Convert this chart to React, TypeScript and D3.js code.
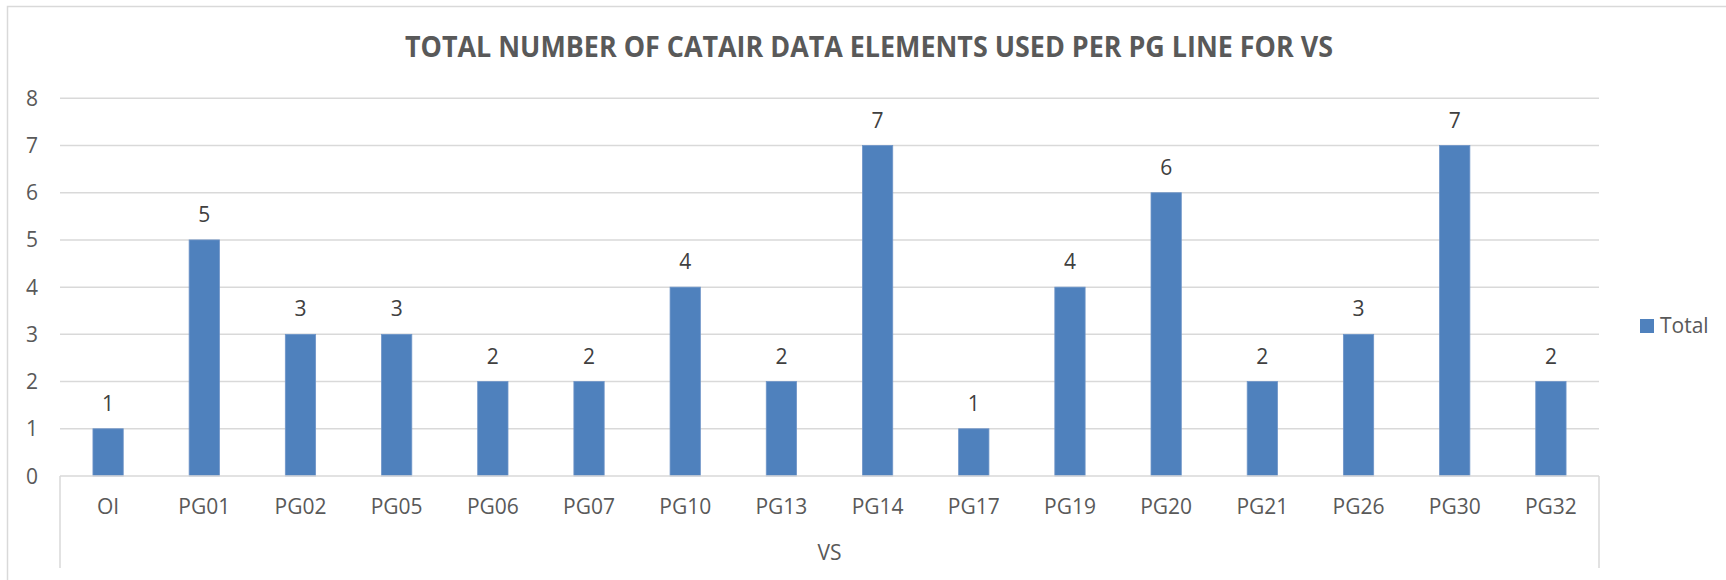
import { scaleBand, scaleLinear } from 'd3'

const categories = ['OI', 'PG01', 'PG02', 'PG05', 'PG06', 'PG07', 'PG10', 'PG13', 'PG14', 'PG17', 'PG19', 'PG20', 'PG21', 'PG26', 'PG30', 'PG32']
const totals = [1, 5, 3, 3, 2, 2, 4, 2, 7, 1, 4, 6, 2, 3, 7, 2]
const yTicks = [0, 1, 2, 3, 4, 5, 6, 7, 8]

const title = 'TOTAL NUMBER OF CATAIR DATA ELEMENTS USED PER PG LINE FOR VS'
const groupLabel = 'VS'
const seriesName = 'Total'

const W = 1726
const H = 580
const plot = { left: 60, right: 1599, top: 98.3, bottom: 476 }
const axisBottom = 568

const barColor = '#4F81BD'
const gridColor = '#D9D9D9'
const textColor = '#595959'
const font = '"Open Sans", "Liberation Sans", sans-serif'

export default function App() {
	const x = scaleBand<string>()
		.domain(categories)
		.range([plot.left, plot.right])
		.paddingInner(0.685)
		.paddingOuter(0.3425)

	const y = scaleLinear().domain([0, 8]).range([plot.bottom, plot.top])

	const mid = (plot.left + plot.right) / 2

	return (
		<svg
			width={W}
			height={H}
			style={{ position: 'absolute', left: 0, top: 0, background: '#fff' }}
			fontFamily={font}
		>
			{/* outer chart frame, cropped on the right and bottom */}
			<rect x={7.5} y={6.5} width={W + 20} height={H + 20} fill='#fff' stroke={gridColor} strokeWidth={1.5} />

			<text
				x={869}
				y={57.3}
				textAnchor='middle'
				fontSize={29}
				fontWeight={700}
				fill={textColor}
				textLength={928}
				lengthAdjust='spacingAndGlyphs'
			>
				{title}
			</text>

			{/* grid + value axis */}
			{yTicks.map((t) => (
				<g key={t}>
					{t > 0 && (
						<line x1={plot.left} x2={plot.right} y1={y(t)} y2={y(t)} stroke={gridColor} strokeWidth={1.5} />
					)}
					<text x={38} y={y(t) + 7.5} textAnchor='end' fontSize={21} fill={textColor}>
						{t}
					</text>
				</g>
			))}

			{/* bars + labels */}
			{categories.map((c, i) => {
				const bx = x(c)!
				const v = totals[i]
				const cx = bx + x.bandwidth() / 2
				return (
					<g key={c}>
						<rect
							x={bx}
							y={y(v)}
							width={x.bandwidth()}
							height={y(0) - y(v)}
							fill={barColor}
							stroke='#6F95C8'
							strokeWidth={0.8}
						/>
						<text x={cx} y={y(v) - 18} textAnchor='middle' fontSize={21} fill='#404040'>
							{v}
						</text>
						<text x={cx} y={514} textAnchor='middle' fontSize={21} fill={textColor}>
							{c}
						</text>
					</g>
				)
			})}

			{/* category axis box */}
			<line x1={plot.left} x2={plot.right} y1={plot.bottom} y2={plot.bottom} stroke={gridColor} strokeWidth={1.5} />
			{[plot.left, plot.right].map((lx) => (
				<line key={lx} x1={lx} x2={lx} y1={plot.bottom} y2={axisBottom} stroke={gridColor} strokeWidth={1.5} />
			))}
			<text x={mid} y={560} textAnchor='middle' fontSize={21} fill={textColor}>
				{groupLabel}
			</text>

			{/* legend */}
			<rect x={1640} y={319} width={14} height={14} fill={barColor} />
			<text x={1660} y={333} fontSize={21} fill={textColor}>
				{seriesName}
			</text>
		</svg>
	)
}
